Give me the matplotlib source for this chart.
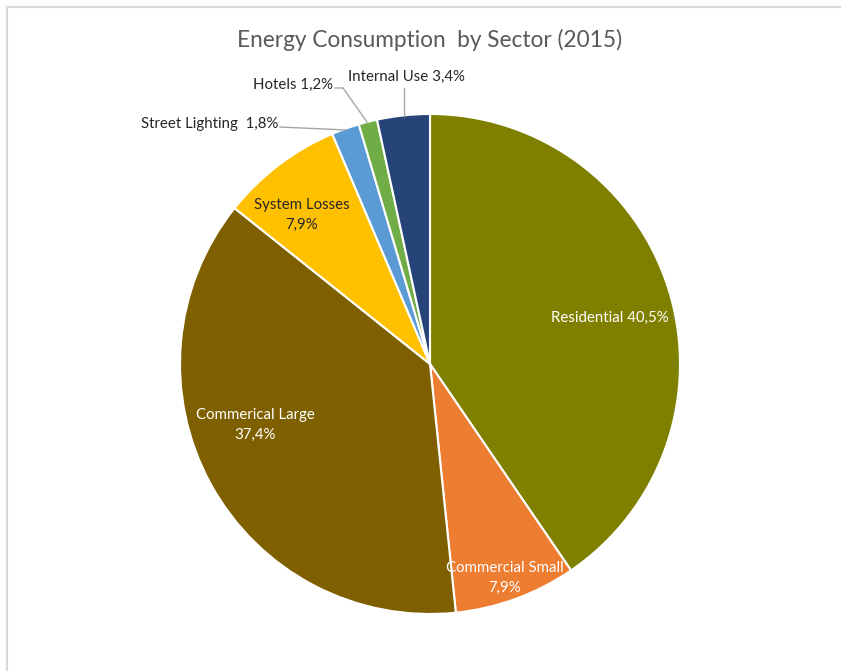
import matplotlib.pyplot as plt
from matplotlib.lines import Line2D

# data (percent of total consumption), clockwise from 12 o'clock
sectors = ['Residential', 'Commercial Small', 'Commerical Large', 'System Losses',
           'Street Lighting', 'Hotels', 'Internal Use']
shares = [40.5, 7.9, 37.4, 7.9, 1.8, 1.2, 3.4]
share_labels = ['40,5%', '7,9%', '37,4%', '7,9%', '1,8%', '1,2%', '3,4%']
colors = ['#808000', '#ED7D31', '#7F6000', '#FFC000', '#5B9BD5', '#70AD47', '#264478']

plt.rcParams['font.family'] = ['Lato', 'DejaVu Sans']

fig = plt.figure(figsize=(8.41, 6.71), dpi=100)
fig.patch.set_facecolor('white')

# light frame like the spreadsheet chart area
fig.add_artist(Line2D([7 / 841, 1], [1 - 7 / 671, 1 - 7 / 671], color='#D9D9D9', lw=1.5,
                      transform=fig.transFigure))
fig.add_artist(Line2D([7 / 841, 7 / 841], [0, 1 - 7 / 671], color='#D9D9D9', lw=1.5,
                      transform=fig.transFigure))

# pie centre at (430, 364) px, radius 250 px
cx, cy, r = 430, 364, 250
ax = fig.add_axes([(cx - r) / 841, (671 - cy - r) / 671, 2 * r / 841, 2 * r / 671])
ax.pie(shares, colors=colors, startangle=90, counterclock=False, radius=1,
       wedgeprops=dict(edgecolor='white', linewidth=1.5))
ax.set_xlim(-1, 1)
ax.set_ylim(-1, 1)
ax.set_aspect('equal')
ax.axis('off')

fig.text(cx / 841, 1 - 40 / 671, 'Energy Consumption  by Sector (2015)', ha='center', va='center',
         fontsize=16.3, color='#595959')

# labels inside the slices
fs = 10.8
ax.text(0.72, 0.184, f'{sectors[0]} {share_labels[0]}', ha='center', va='center',
        fontsize=fs, color='white')
ax.text(0.30, -0.856, f'{sectors[1]}\n{share_labels[1]}', ha='center', va='center',
        fontsize=fs, color='white', linespacing=1.5)
ax.text(-0.70, -0.244, f'{sectors[2]}\n{share_labels[2]}', ha='center', va='center',
        fontsize=fs, color='white', linespacing=1.5)
ax.text(-0.512, 0.596, f'{sectors[3]}\n{share_labels[3]}', ha='center', va='center',
        fontsize=fs, color='#262626', linespacing=1.5)


def px(x, y):
    return (x - cx) / r, (cy - y) / r


# outside labels with leader lines
ax.text(*px(278, 124), f'{sectors[4]}  {share_labels[4]}', ha='right', va='center',
        fontsize=fs, color='#262626')
xs, ys = zip(px(280, 127), px(346, 130))
ax.plot(xs, ys, color='#A6A6A6', lw=1, clip_on=False)

ax.text(*px(333, 85), f'{sectors[5]} {share_labels[5]}', ha='right', va='center',
        fontsize=fs, color='#262626')
xs, ys = zip(px(335, 88), px(343, 88), px(367, 122))
ax.plot(xs, ys, color='#A6A6A6', lw=1, clip_on=False)

ax.text(*px(406, 77), f'{sectors[6]} {share_labels[6]}', ha='center', va='center',
        fontsize=fs, color='#262626')
xs, ys = zip(px(404, 88), px(404, 116))
ax.plot(xs, ys, color='#A6A6A6', lw=1, clip_on=False)

fig.savefig('out.png', dpi=100)
